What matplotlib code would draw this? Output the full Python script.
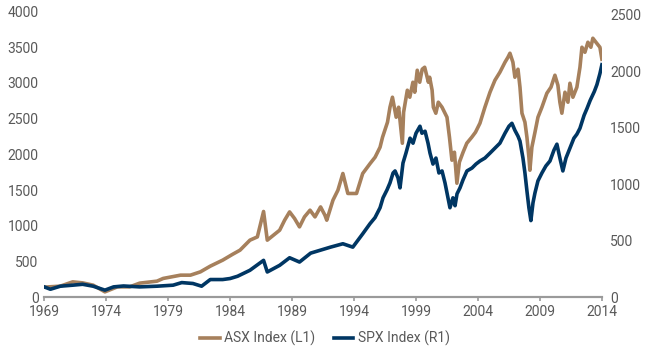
import matplotlib
matplotlib.use('Agg')
import matplotlib.pyplot as plt

# values
asx_years = [1969.0, 1970.3, 1971.3, 1972.1, 1972.95, 1973.9, 1974.9, 1975.9, 1976.7, 1978.1,
             1978.6, 1980.0, 1980.8, 1981.6, 1982.4, 1983.4, 1984.2, 1984.8, 1985.6, 1986.2,
             1986.7, 1987.0, 1988.0, 1988.4, 1988.8, 1989.2, 1989.6, 1990.0, 1990.45, 1990.85,
             1991.3, 1991.65, 1991.8, 1992.3, 1992.7, 1993.1,
             1993.5, 1994.2, 1994.7, 1995.3, 1995.7, 1996.1, 1996.3, 1996.7, 1996.9, 1997.1,
             1997.4, 1997.6, 1997.9, 1998.0, 1998.3, 1998.5, 1998.75, 1998.9, 1999.1, 1999.3,
             1999.5, 1999.7, 2000.0, 2000.1, 2000.3, 2000.4, 2000.6, 2000.8, 2001.1, 2001.3,
             2001.5, 2001.7, 2001.9, 2002.1, 2002.3, 2002.5, 2002.8, 2003.1, 2003.5, 2003.8,
             2004.16, 2004.56, 2004.97, 2005.37, 2005.77, 2006.18, 2006.42, 2006.58, 2006.82, 2006.98,
             2007.23, 2007.39, 2007.55, 2007.79, 2007.95, 2008.11, 2008.19, 2008.35, 2008.6, 2008.84,
             2009.16, 2009.56, 2009.89, 2010.21, 2010.45, 2010.61, 2010.77, 2011.02, 2011.26, 2011.42,
             2011.66, 2011.98, 2012.23, 2012.39, 2012.63, 2012.87, 2013.11, 2013.27, 2013.52, 2013.84,
             2014.0]
asx_values = [140, 154, 214, 200, 168, 74, 144, 144, 196, 224,
              262, 308, 308, 354, 434, 518, 600, 658, 798, 844,
              1200, 798, 938, 1078, 1194, 1102, 984, 1124, 1218, 1124,
              1264, 1148, 1078, 1358, 1498, 1732,
              1452, 1452, 1732, 1872, 1960, 2100, 2240, 2450, 2660, 2800,
              2520, 2660, 2156, 2590, 2898, 2800, 3010, 2870, 3178, 3010,
              3192, 3220, 3010, 3080, 2898, 2660, 2576, 2730, 2660, 2590,
              2520, 2240, 1918, 2030, 1596, 1890, 2030, 2156, 2240, 2310,
              2436, 2660, 2870, 3038, 3150, 3290, 3360, 3416, 3290, 3080,
              3192, 2940, 2576, 2450, 2240, 1960, 1778, 2100, 2310, 2520,
              2660, 2856, 2940, 3108, 2968, 2730, 2576, 2870, 2730, 2996,
              2800, 2940, 3220, 3500, 3430, 3570, 3500, 3626, 3570, 3500,
              3332]

spx_years = [1969.0, 1969.5, 1970.3, 1971.3, 1972.1, 1972.95, 1973.9, 1974.6, 1975.4, 1976.7,
             1978.1, 1979.4, 1980.1, 1981.0, 1981.7, 1982.4, 1983.4, 1984.0, 1984.6, 1985.6,
             1986.7, 1987.0, 1988.0, 1988.8, 1989.6, 1990.5, 1992.1, 1993.1, 1993.9, 1994.7,
             1995.29, 1995.69, 1996.1, 1996.34, 1996.66, 1996.9, 1997.15, 1997.31, 1997.55, 1997.71,
             1997.95, 1998.19, 1998.52, 1998.76, 1999.0, 1999.32, 1999.48, 1999.73, 1999.97, 2000.13,
             2000.37, 2000.61, 2000.85, 2001.1, 2001.34, 2001.58, 2001.74, 2001.98, 2002.15, 2002.31,
             2002.55, 2002.79, 2003.11, 2003.52, 2003.84, 2004.16, 2004.56, 2004.97, 2005.37, 2005.77,
             2006.18, 2006.5, 2006.74, 2006.98, 2007.23, 2007.39, 2007.63, 2007.79, 2007.95, 2008.11,
             2008.27, 2008.44, 2008.6, 2008.84, 2009.16, 2009.48, 2009.81, 2010.13, 2010.37, 2010.61,
             2010.85, 2011.1, 2011.42, 2011.74, 2011.98, 2012.23, 2012.56, 2012.8, 2013.05, 2013.39,
             2013.6, 2013.84, 2014.0]
spx_values = [91, 70, 97, 106, 114, 97, 62, 91, 99, 91,
              97, 106, 129, 121, 97, 156, 156, 165, 185, 238,
              326, 223, 282, 349, 311, 390, 443, 473, 443, 561,
              651, 704, 792, 880, 950, 1012, 1100, 1118, 1056, 968,
              1188, 1276, 1408, 1364, 1452, 1514, 1452, 1470, 1364, 1276,
              1179, 1232, 1100, 1118, 1012, 880, 792, 880, 810, 915,
              968, 1038, 1118, 1144, 1179, 1206, 1232, 1276, 1320, 1364,
              1452, 1514, 1540, 1478, 1426, 1382, 1232, 1100, 942, 792,
              678, 836, 924, 1030, 1100, 1162, 1206, 1302, 1355, 1232,
              1118, 1232, 1320, 1408, 1443, 1496, 1610, 1672, 1742, 1822,
              1883, 1980, 2059]

x_ticks = [1969, 1974, 1979, 1984, 1989, 1994, 1999, 2004, 2009, 2014]

asx_color = '#A6805C'
spx_color = '#003663'
grey_text = '#595959'

plt.rcParams['font.family'] = ['Roboto', 'DejaVu Sans']

fig = plt.figure(figsize=(6.5, 3.5), dpi=100)
ax = fig.add_axes([0.068, 0.151, 0.858, 0.816])
ax2 = ax.twinx()

l1, = ax.plot(asx_years, asx_values, color=asx_color, linewidth=2.6, label='ASX Index (L1)')
l2, = ax2.plot(spx_years, spx_values, color=spx_color, linewidth=2.6, label='SPX Index (R1)')

ax.set_xlim(1969, 2014)
ax.set_ylim(0, 4000)
ax2.set_ylim(0, 2530)
ax.set_xticks(x_ticks)
ax.set_yticks(range(0, 4001, 500))
ax2.set_yticks(range(0, 2501, 500))

for a in (ax, ax2):
    for s in ['top', 'left', 'right']:
        a.spines[s].set_visible(False)
    a.spines['bottom'].set_color('#9a9a9a')
    a.spines['bottom'].set_linewidth(1.5)

ax.tick_params(axis='x', direction='out', length=3, width=1.2, color='#9a9a9a',
               labelsize=10, labelcolor=grey_text, pad=3)
ax.tick_params(axis='y', length=0, labelsize=10, labelcolor=grey_text, pad=4)
ax2.tick_params(axis='y', length=0, labelsize=10, labelcolor=grey_text, pad=6)

fig.legend([l1, l2], ['ASX Index (L1)', 'SPX Index (R1)'], loc='center',
           bbox_to_anchor=(0.5, 0.034), ncol=2, frameon=False, fontsize=10,
           labelcolor=grey_text, handlelength=1.4, handletextpad=0.35, columnspacing=1.3,
           borderpad=0.1)

fig.savefig('out.png', dpi=100)
